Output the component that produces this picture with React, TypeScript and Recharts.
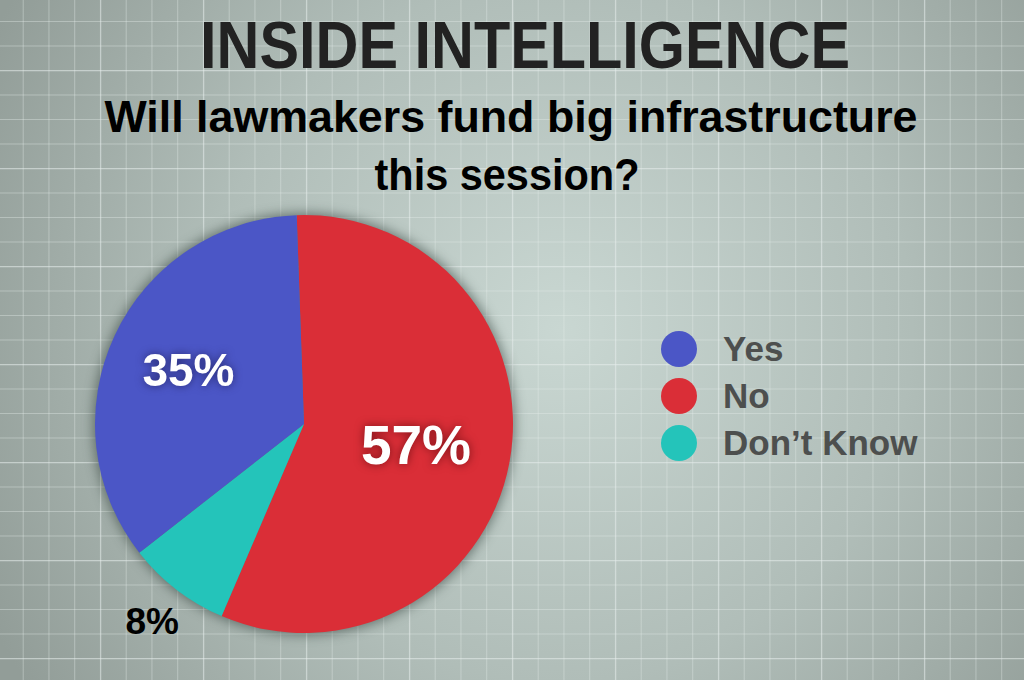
import React from "react";
import { PieChart, Pie, Cell, Legend } from "recharts";

// legend order
const categories = ["Yes", "No", "Don't Know"];
const shares = [35, 57, 8];
const sliceColors = ["#4b56c6", "#da2e37", "#24c4ba"];
// order the slices are drawn in, clockwise from the top
const sliceOrder = [1, 2, 0];

const title = "INSIDE INTELLIGENCE";
const subtitleLines = ["Will lawmakers fund big infrastructure", "this session?"];

const pieData = sliceOrder.map((i) => ({
  name: categories[i],
  value: shares[i],
  color: sliceColors[i],
}));

// label look per category (radius as a fraction of the pie radius)
const labelStyle: { [key: string]: { r: number; size: number; fill: string; glow: string } } = {
  Yes: { r: 0.61, size: 46, fill: "#ffffff", glow: "drop-shadow(0 0 4px rgba(30,30,90,0.8))" },
  No: { r: 0.545, size: 55, fill: "#ffffff", glow: "drop-shadow(0 0 5px rgba(100,10,15,0.8))" },
  "Don't Know": { r: 1.19, size: 37, fill: "#000000", glow: "none" },
};

const RADIAN = Math.PI / 180;
const FONT = "'Liberation Sans', Arial, Helvetica, sans-serif";

const renderLabel = (props: any) => {
  const { cx, cy, midAngle, outerRadius, index } = props;
  const item = pieData[index];
  const st = labelStyle[item.name];
  const r = outerRadius * st.r;
  const x = cx + r * Math.cos(-midAngle * RADIAN);
  const y = cy + r * Math.sin(-midAngle * RADIAN);
  return (
    <text
      x={x}
      y={y}
      textAnchor="middle"
      dominantBaseline="central"
      fill={st.fill}
      fontFamily={FONT}
      fontWeight={700}
      fontSize={st.size}
      style={{ filter: st.glow }}
    >
      {`${item.value}%`}
    </text>
  );
};

const renderLegend = () => (
  <div>
    {categories.map((c, i) => (
      <div key={c} style={{ display: "flex", alignItems: "center", height: 47 }}>
        <svg width={36} height={36} style={{ marginRight: 26 }}>
          <circle cx={18} cy={18} r={18} fill={sliceColors[i]} />
        </svg>
        <span
          style={{
            fontFamily: FONT,
            fontWeight: 700,
            fontSize: 35,
            color: "#4d4f4e",
            lineHeight: "47px",
          }}
        >
          {c.replace("'", "\u2019")}
        </span>
      </div>
    ))}
  </div>
);

const Background: React.FC = () => (
  <svg width={1024} height={680} style={{ position: "absolute", left: 0, top: 0 }}>
    <defs>
      <radialGradient id="bg" gradientUnits="userSpaceOnUse" cx={560} cy={330} r={640}>
        <stop offset="0" stopColor="#c9d7d2" />
        <stop offset="0.55" stopColor="#b0bdb8" />
        <stop offset="1" stopColor="#929d98" />
      </radialGradient>
      <pattern id="minor" patternUnits="userSpaceOnUse" x={22.7} y={21} width={25.75} height={24.5}>
        <line x1={0} y1={0} x2={0} y2={24.5} stroke="rgba(228,236,233,0.38)" strokeWidth={2} />
        <line x1={0} y1={0} x2={25.75} y2={0} stroke="rgba(228,236,233,0.38)" strokeWidth={2} />
      </pattern>
      <pattern id="major" patternUnits="userSpaceOnUse" x={22.7 + 3 * 25.75} y={21 + 2 * 24.5} width={103} height={98}>
        <line x1={0} y1={0} x2={0} y2={98} stroke="rgba(232,240,237,0.3)" strokeWidth={3} />
        <line x1={0} y1={0} x2={103} y2={0} stroke="rgba(232,240,237,0.3)" strokeWidth={3} />
      </pattern>
    </defs>
    <rect x={0} y={0} width={1024} height={680} fill="url(#bg)" />
    <rect x={0} y={0} width={1024} height={680} fill="url(#minor)" />
    <rect x={0} y={0} width={1024} height={680} fill="url(#major)" />
  </svg>
);

const Titles: React.FC = () => (
  <svg width={1024} height={210} style={{ position: "absolute", left: 0, top: 0, pointerEvents: "none" }}>
    <text
      x={525}
      y={68}
      textAnchor="middle"
      fontFamily={FONT}
      fontWeight={700}
      fontSize={66}
      fill="#222222"
      textLength={650}
      lengthAdjust="spacingAndGlyphs"
    >
      {title}
    </text>
    <text
      x={511}
      y={132}
      textAnchor="middle"
      fontFamily={FONT}
      fontWeight={700}
      fontSize={45}
      fill="#000000"
      textLength={813}
      lengthAdjust="spacingAndGlyphs"
    >
      {subtitleLines[0]}
    </text>
    <text
      x={507}
      y={190}
      textAnchor="middle"
      fontFamily={FONT}
      fontWeight={700}
      fontSize={45}
      fill="#000000"
      textLength={265}
      lengthAdjust="spacingAndGlyphs"
    >
      {subtitleLines[1]}
    </text>
  </svg>
);

export default function App() {
  return (
    <div
      style={{
        position: "absolute",
        left: 0,
        top: 0,
        width: 1024,
        height: 680,
        overflow: "hidden",
      }}
    >
      <Background />
      <div style={{ position: "absolute", left: 0, top: 0 }}>
        <PieChart width={1024} height={680} margin={{ top: 0, right: 0, bottom: 0, left: 0 }}>
          {/* soft shadow under the pie */}
          <Pie
            data={[{ name: "shadow", value: 1 }]}
            dataKey="value"
            cx={304}
            cy={424}
            outerRadius={211}
            fill="rgba(40,55,50,0.55)"
            stroke="none"
            isAnimationActive={false}
            legendType="none"
            style={{ filter: "blur(6px)" }}
          />
          <Pie
            data={pieData}
            dataKey="value"
            nameKey="name"
            cx={304}
            cy={424}
            outerRadius={209}
            startAngle={92}
            endAngle={-268}
            stroke="none"
            label={renderLabel}
            labelLine={false}
            isAnimationActive={false}
          >
            {pieData.map((d) => (
              <Cell key={d.name} fill={d.color} />
            ))}
          </Pie>
          <Legend
            layout="vertical"
            content={renderLegend}
            wrapperStyle={{ left: 661, top: 325, width: 320 }}
          />
        </PieChart>
      </div>
      <Titles />
    </div>
  );
}
